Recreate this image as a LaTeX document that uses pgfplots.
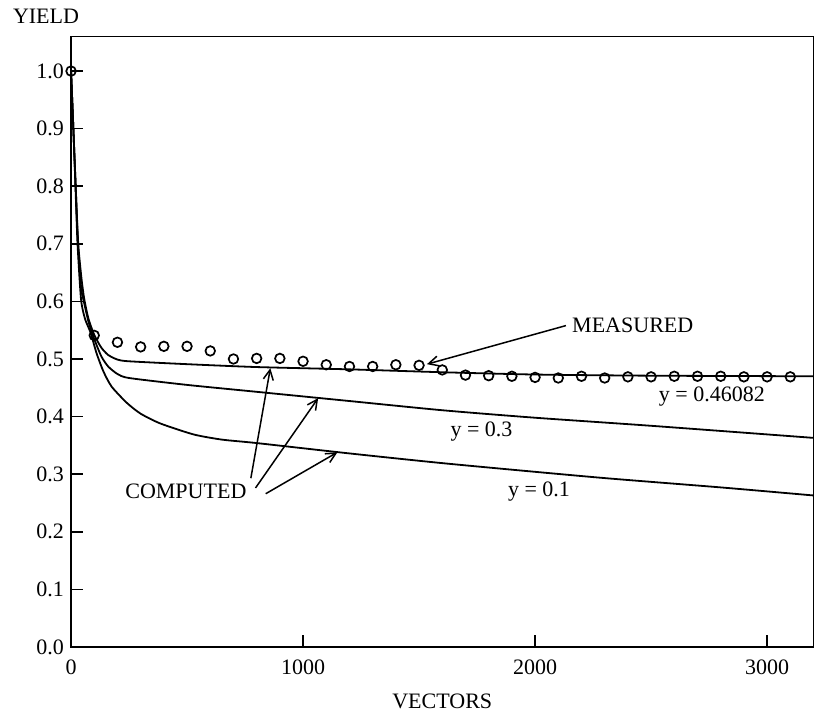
\documentclass[border=0pt]{standalone}
\usepackage{fontspec}
\setmainfont{Liberation Serif}
\usepackage{pgfplots}
\pgfplotsset{compat=1.18}
\usetikzlibrary{arrows.meta}

\begin{document}
\begin{tikzpicture}[font=\fontsize{11}{13}\selectfont]
\useasboundingbox (-35.5pt,-36.5pt) rectangle (373.75pt,323.25pt);
\begin{axis}[
  scale only axis, width=371pt, height=305pt,
  xmin=0, xmax=3200, ymin=0, ymax=1.06,
  xtick={0,1000,2000,3000},
  ytick={0,0.1,0.2,0.3,0.4,0.5,0.6,0.7,0.8,0.9,1.0},
  xtick pos=bottom, ytick pos=left,
  tick align=inside, major tick length=6pt,
  axis line style={line width=0.9pt},
  every tick/.style={black, line width=0.8pt},
  /pgf/number format/assume math mode=true,
  xticklabel style={/pgf/number format/1000 sep={}, yshift=-3pt},
  yticklabel style={/pgf/number format/.cd, fixed, fixed zerofill, precision=1},
  xlabel={VECTORS}, ylabel={YIELD},
  every axis x label/.style={at={(axis description cs:0.5,-0.09)}, anchor=center},
  every axis y label/.style={at={(rel axis cs:0,1)}, anchor=center, xshift=-12.5pt, yshift=10.3pt},
]
% computed, y = 0.46082
\addplot[black, line width=0.9pt, smooth, tension=0.4] coordinates {
(0,1.0) (10,0.90) (20,0.80) (31,0.70) (45,0.64) (57,0.604) (75,0.57) (100,0.542)
(130,0.52) (160,0.507) (200,0.499) (250,0.496) (500,0.491) (800,0.486) (1200,0.482)
(1600,0.477) (2000,0.473) (2500,0.471) (3200,0.470)};
% computed, y = 0.3
\addplot[black, line width=0.9pt, smooth, tension=0.4] coordinates {
(0,1.0) (10,0.90) (20,0.80) (30,0.70) (43,0.625) (55,0.60) (75,0.565) (95,0.54)
(130,0.505) (160,0.487) (200,0.474) (250,0.467) (500,0.455) (800,0.443) (1200,0.427)
(1600,0.411) (2000,0.398) (2500,0.384) (3200,0.363)};
% computed, y = 0.1
\addplot[black, line width=0.9pt, smooth, tension=0.4] coordinates {
(0,1.0) (10,0.90) (19,0.80) (28,0.70) (43,0.604) (60,0.57) (84,0.546) (110,0.51)
(140,0.478) (175,0.452) (240,0.424) (300,0.405) (385,0.388) (528,0.369) (650,0.36)
(800,0.354) (1200,0.336) (1629,0.318) (2276,0.294) (2800,0.277) (3200,0.263)};
% measured
\addplot[only marks, mark=o, mark size=2.4pt, mark options={line width=0.85pt, black}] coordinates {
(0,1.0) (100,0.541) (200,0.529) (300,0.521) (400,0.522) (500,0.522) (600,0.514)
(700,0.500) (800,0.501) (900,0.501) (1000,0.496) (1100,0.490) (1200,0.487) (1300,0.487)
(1400,0.490) (1500,0.489) (1600,0.481) (1700,0.472) (1800,0.471) (1900,0.470)
(2000,0.468) (2100,0.467) (2200,0.470) (2300,0.467) (2400,0.469) (2500,0.469)
(2600,0.470) (2700,0.470) (2800,0.470) (2900,0.469) (3000,0.469) (3100,0.469)};
% annotations
\node at (axis cs:2421,0.558) {MEASURED};
\draw[line width=0.75pt, -{Straight Barb[length=5pt,width=5pt]}] (axis cs:2133,0.558) -- (axis cs:1534,0.491);
\node at (axis cs:2762,0.435) {y = 0.46082};
\node at (axis cs:1769,0.374) {y = 0.3};
\node at (axis cs:2017,0.269) {y = 0.1};
\node at (axis cs:495,0.270) {COMPUTED};
\draw[line width=0.75pt, -{Straight Barb[length=5pt,width=5pt]}] (axis cs:775,0.293) -- (axis cs:859,0.484);
\draw[line width=0.75pt, -{Straight Barb[length=5pt,width=5pt]}] (axis cs:795,0.276) -- (axis cs:1065,0.432);
\draw[line width=0.75pt, -{Straight Barb[length=5pt,width=5pt]}] (axis cs:839,0.266) -- (axis cs:1148,0.338);
\end{axis}
\end{tikzpicture}
\end{document}
